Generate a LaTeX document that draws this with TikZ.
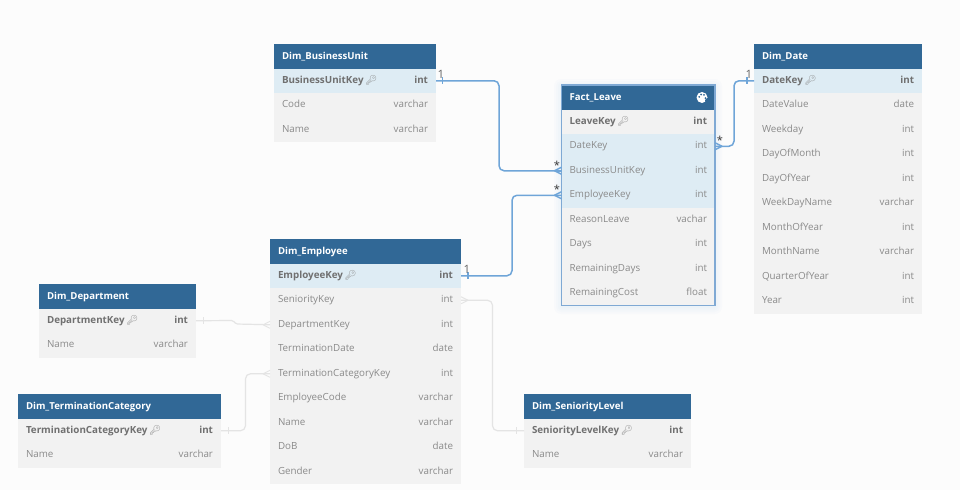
\documentclass[tikz,border=0pt]{standalone}
\usepackage{fontspec}
\setmainfont{Open Sans}
\newfontfamily\emojifont{Noto Emoji}
\usetikzlibrary{calc}
\definecolor{headblue}{HTML}{316896}
\definecolor{hlrow}{HTML}{DEECF4}
\definecolor{plrow}{HTML}{F2F2F2}
\definecolor{pagebg}{HTML}{FCFCFC}
\definecolor{txt}{HTML}{8A8A8A}
\definecolor{pktxt}{HTML}{707070}
\definecolor{relblue}{HTML}{6FA5D8}
\definecolor{relgray}{HTML}{E4E4E4}
\definecolor{factedge}{HTML}{7FA9D4}
\newcommand\pk[1]{\textbf{\color{pktxt}#1}\,{\emojifont\fontsize{9.5}{9.5}\selectfont\color{txt}\symbol{"1F511}}}
\newcommand\pt[1]{\textbf{\color{pktxt}#1}}
\tikzset{
  every node/.style={inner sep=0pt,outer sep=0pt},
  headbox/.style={fill=headblue,anchor=north west,minimum height=24.5pt},
  hl/.style={fill=hlrow,anchor=north west,minimum height=24.5pt},
  pl/.style={fill=plrow,anchor=north west,minimum height=24.5pt},
  lbl/.style={anchor=west,text=txt,font=\fontsize{9.8}{11}\selectfont,text height=7.5pt,text depth=2pt},
  typ/.style={anchor=east,text=txt,font=\fontsize{9.8}{11}\selectfont,text height=7.5pt,text depth=2pt},
  ttl/.style={anchor=west,text=white,font=\fontsize{9.6}{11}\selectfont\bfseries,text height=7.5pt,text depth=2pt},
  rel/.style={draw=relblue,line width=1.5pt,rounded corners=5pt},
  relmark/.style={draw=relblue,line width=1.5pt},
  relg/.style={draw=relgray,line width=1.2pt,rounded corners=5pt},
  relgmark/.style={draw=relgray,line width=.9pt},
  onelbl/.style={text=black!60,font=\fontsize{11.5}{12}\selectfont},
  manylbl/.style={text=black!80,font=\fontsize{11}{12}\selectfont},
}
% id, x, y, width, title, rows
\newcommand\tbl[6]{%
  \node[headbox,minimum width=#4pt] (#1-h) at (#2,#3) {};
  \node[ttl] (#1-t) at ($(#1-h.west)+(8,.2)$) {#5};
  \foreach \nm/\ty/\st [count=\i] in {#6} {
    \pgfmathsetmacro\yy{#3+24.5*\i}
    \node[\st,minimum width=#4pt] (#1-\i) at (#2,\yy) {};
    \node[lbl] (#1-\i-n) at ($(#1-\i.west)+(8,-.2)$) {\nm};
    \node[typ] (#1-\i-y) at ($(#1-\i.east)+(-8,-.2)$) {\ty};
  }
}
% tick across a horizontal line: node anchor, offset
\newcommand\tick[3]{\draw[#3] ($(#1)+(#2,-3.5)$) -- ($(#1)+(#2,3.5)$);}
% crow foot: anchor, direction (-1 left, 1 right), style
\newcommand\crow[3]{%
  \draw[#3] ($(#1)+(#2*7,0)$) -- ($(#1)+(0,-3.5)$);
  \draw[#3] ($(#1)+(#2*7,0)$) -- ($(#1)+(0,3.5)$);
  \draw[#3] ($(#1)+(#2*7,0)$) -- (#1);}
\begin{document}
\begin{tikzpicture}[x=1pt,y=-1pt]
\useasboundingbox (0,0) rectangle (960,490);
\fill[pagebg] (0,0) rectangle (960,490);
% soft glow round the selected table
\foreach \g in {7,5,3,1}
  \fill[relblue,opacity=.025,rounded corners=\g pt] (561-\g,85-\g+1) rectangle (715+\g,306+\g+1);

\tbl{bu}{274}{44}{162}{Dim\_BusinessUnit}{\pk{BusinessUnitKey}/\pt{int}/hl,Code/varchar/pl,Name/varchar/pl}
\tbl{f}{561.5}{85}{153.5}{Fact\_Leave}{\pk{LeaveKey}/\pt{int}/pl,DateKey/int/hl,BusinessUnitKey/int/hl,EmployeeKey/int/hl,ReasonLeave/vachar/pl,Days/int/pl,RemainingDays/int/pl,RemainingCost/float/pl}
\tbl{d}{754}{44}{168}{Dim\_Date}{\pk{DateKey}/\pt{int}/hl,DateValue/date/pl,Weekday/int/pl,DayOfMonth/int/pl,DayOfYear/int/pl,WeekDayName/varchar/pl,MonthOfYear/int/pl,MonthName/varchar/pl,QuarterOfYear/int/pl,Year/int/pl}
\tbl{e}{270}{239}{191}{Dim\_Employee}{\pk{EmployeeKey}/\pt{int}/hl,SeniorityKey/int/pl,DepartmentKey/int/pl,TerminationDate/date/pl,TerminationCategoryKey/int/pl,EmployeeCode/varchar/pl,Name/varchar/pl,DoB/date/pl,Gender/varchar/pl}
\tbl{dp}{39}{284}{157}{Dim\_Department}{\pk{DepartmentKey}/\pt{int}/pl,Name/varchar/pl}
\tbl{t}{18}{394}{203}{Dim\_TerminationCategory}{\pk{TerminationCategoryKey}/\pt{int}/pl,Name/varchar/pl}
\tbl{s}{524}{394}{167}{Dim\_SeniorityLevel}{\pk{SeniorityLevelKey}/\pt{int}/pl,Name/varchar/pl}

\draw[factedge,line width=1.3pt] (f-h.north west) rectangle (f-8.south east);

% palette icon
\node[circle,fill=white,minimum size=11pt] (palette) at (702,97.5) {};
\fill[headblue] ($(palette)+(-2.8,-.6)$) circle (1pt);
\fill[headblue] ($(palette)+(-1,-3)$) circle (1pt);
\fill[headblue] ($(palette)+(2,-2.6)$) circle (1pt);
\fill[headblue] ($(palette)+(3.4,.6)$) circle (1pt);
\fill[headblue] ($(palette)+(5.6,3.2)$) circle (2.6pt);

% strong relations
\coordinate (b1) at (499,125);
\coordinate (b2) at (512,235);
\coordinate (b3) at (734,110);
\draw[rel] (bu-1.east) -| (b1) |- (f-3.west);
\draw[rel] (e-1.east) -| (b2) |- (f-4.west);
\draw[rel] (f-2.east) -| (b3) |- (d-1.west);
\crow{f-3.west}{-1}{relmark}
\crow{f-4.west}{-1}{relmark}
\crow{f-2.east}{1}{relmark}
\tick{bu-1.east}{6.5}{relmark}
\tick{e-1.east}{7}{relmark}
\tick{d-1.west}{-7}{relmark}
\node[onelbl] (l1) at (441,74.5) {1};
\node[onelbl] (l2) at (467,269.5) {1};
\node[onelbl] (l3) at (749,74.5) {1};
\node[manylbl] (m1) at (557,165) {*};
\node[manylbl] (m2) at (557,189.5) {*};
\node[manylbl] (m3) at (720,140) {*};

% faded relations
\coordinate (g1) at (233,320.5);
\coordinate (g2) at (236,324);
\coordinate (g3) at (245.5,400);
\coordinate (g4) at (492.5,360);
\draw[relg,rounded corners=1.5pt] (dp-1.east) -- (g1) -- (g2) -- (e-3.west);
\draw[relg] (t-1.east) -| (g3) |- (e-5.west);
\draw[relg] (e-2.east) -| (g4) |- (s-1.west);
\crow{e-3.west}{-1}{relgmark}
\crow{e-5.west}{-1}{relgmark}
\crow{e-2.east}{1}{relgmark}
\tick{dp-1.east}{7}{relgmark}
\tick{t-1.east}{7.5}{relgmark}
\tick{s-1.west}{-8}{relgmark}
\end{tikzpicture}
\end{document}
